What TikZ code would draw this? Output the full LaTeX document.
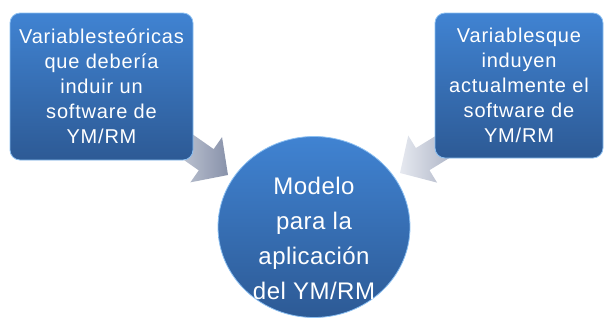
\documentclass[tikz,border=0pt]{standalone}
\usepackage{fontspec}
\setmainfont{Liberation Sans}
\newfontfamily\boxfont[LetterSpace=4]{Liberation Sans}
\newfontfamily\hubfont[LetterSpace=2]{Liberation Sans}
\usetikzlibrary{shapes.geometric}
\definecolor{boxtop}{HTML}{4083D2}
\definecolor{boxbot}{HTML}{2D5A95}
\definecolor{rim}{HTML}{8CC0F2}
\definecolor{arrlight}{HTML}{E6E9F0}
\definecolor{arrdark}{HTML}{8892AA}
\begin{document}
\begin{tikzpicture}[x=1pt,y=1pt,
  infobox/.style={rounded corners=10pt, top color=boxtop, bottom color=boxbot,
    draw=rim, line width=0.8pt, text=white, align=center, inner sep=0pt,
    font=\boxfont\fontsize{20}{25}\selectfont},
  hub/.style={ellipse, top color=boxtop, bottom color=boxbot, draw=rim,
    line width=0.8pt, inner sep=0pt,
    minimum width=192pt, minimum height=181pt},
  hubtext/.style={text=white, align=center, inner sep=0pt,
    font=\hubfont\fontsize{24}{35}\selectfont},
  blockarrow/.style={left color=arrlight, right color=arrdark, draw=none}]
\useasboundingbox (0,0) rectangle (606,-324);
% block arrows (behind boxes)
\coordinate (ltip) at (228,-175);
\coordinate (rtip) at (400,-173);
\begin{scope}[shift={(ltip)}, rotate=-35]
  \shade[blockarrow] (0,0) -- (-26.6,27.6) -- (-26.6,13) -- (-95,13)
    -- (-95,-13) -- (-26.6,-13) -- (-26.6,-27.6) -- cycle;
\end{scope}
\begin{scope}[shift={(rtip)}, rotate=211.5]
  \shade[blockarrow] (0,0) -- (-26.6,27.6) -- (-26.6,13) -- (-95,13)
    -- (-95,-13) -- (-26.6,-13) -- (-26.6,-27.6) -- cycle;
\end{scope}
% boxes
\node[infobox, minimum width=183pt, minimum height=147pt] (lbox) at (101.5,-86.5)
  {Variablesteóricas\\que debería\\induir un\\software de\\YM/RM};
\node[infobox, minimum width=168pt, minimum height=145pt] (rbox) at (519,-85.5)
  {Variablesque\\induyen\\actualmente el\\software de\\YM/RM};
% hub
\node[hub] (hub) at (314,-227) {};
\node[hubtext] (hubtext) at ([yshift=-11pt]hub.center)
  {Modelo\\para la\\aplicación\\del YM/RM};
\end{tikzpicture}
\end{document}
